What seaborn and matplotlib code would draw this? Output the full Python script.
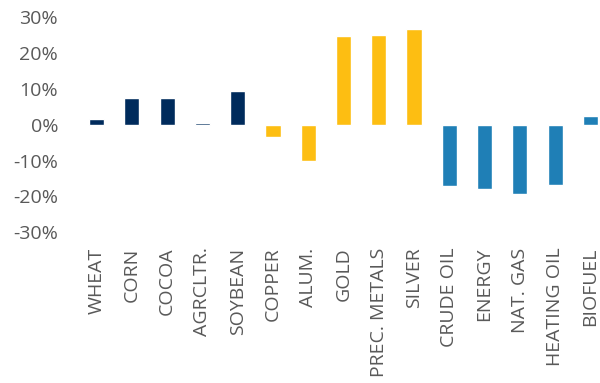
import matplotlib
matplotlib.use('Agg')
import matplotlib.pyplot as plt
import seaborn as sns
from matplotlib.ticker import FuncFormatter

categories = ['WHEAT', 'CORN', 'COCOA', 'AGRCLTR.', 'SOYBEAN', 'COPPER', 'ALUM.', 'GOLD',
              'PREC. METALS', 'SILVER', 'CRUDE OIL', 'ENERGY', 'NAT. GAS', 'HEATING OIL', 'BIOFUEL']
returns = [1.7, 7.5, 7.5, 0.6, 9.4, -3.5, -10.0, 24.7, 25.0, 26.7, -17.2, -18.0, -19.4, -16.9, 2.5]
groups = ['agri'] * 5 + ['metal'] * 5 + ['energy'] * 5
group_colors = {'agri': '#002B5C', 'metal': '#FDBE12', 'energy': '#1F7FB6'}

sns.set_style('white')
plt.rcParams['font.family'] = ['Open Sans', 'DejaVu Sans']

fig = plt.figure(figsize=(6, 3.83), dpi=100)
ax = fig.add_axes([79 / 600, (383 - 232.3) / 383, 529 / 600, 215 / 383])

sns.barplot(x=categories, y=returns, hue=categories,
            palette=[group_colors[g] for g in groups],
            width=0.43, saturation=1, legend=False, ax=ax)

ax.set_ylim(-30, 30)
ax.set_xlim(-0.5, 14.5)
ax.set_yticks(range(-30, 31, 10))
ax.yaxis.set_major_formatter(FuncFormatter(lambda v, p: f'{v:.0f}%'))
ax.tick_params(axis='y', labelsize=14, labelcolor='#595959', length=0, pad=15)
ax.tick_params(axis='x', labelsize=14, labelcolor='#595959', length=0, pad=11, rotation=90)
for s in ax.spines.values():
    s.set_visible(False)
ax.set_xlabel('')
ax.set_ylabel('')

fig.savefig('out.png', dpi=100)
